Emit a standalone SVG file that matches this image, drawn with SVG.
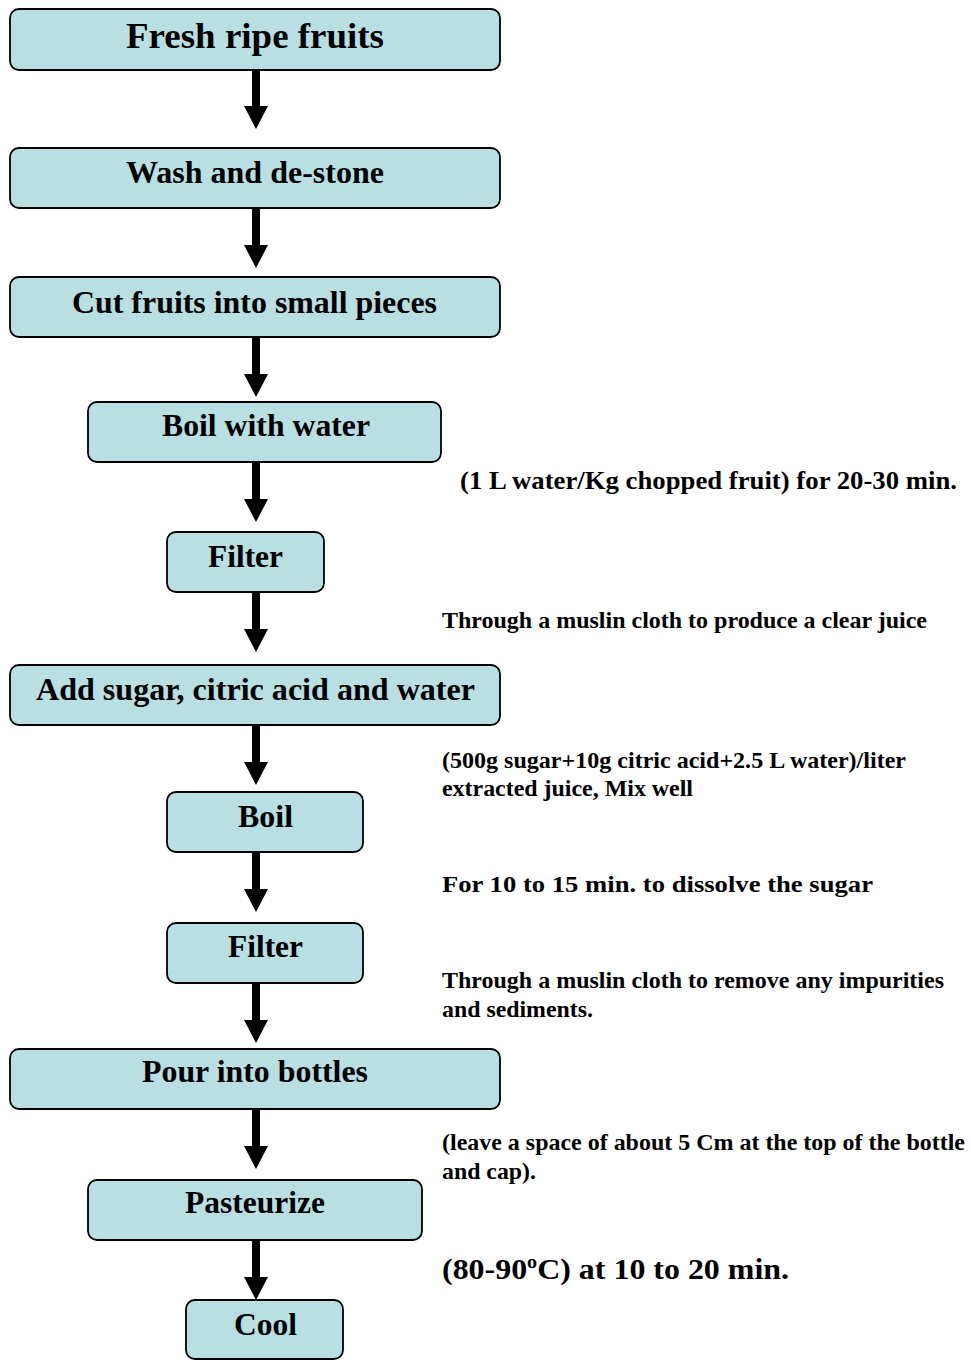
<svg xmlns="http://www.w3.org/2000/svg" xmlns:xlink="http://www.w3.org/1999/xlink" width="971" height="1361" viewBox="0 0 971 1361" font-family="'Liberation Serif', 'Times New Roman', Times, serif" font-weight="bold">
<style>
.box{fill:#b9dfe2;stroke:#000;stroke-width:1.8}
.lbl{font-size:32px}
.note{font-size:23px}
.arr{fill:#000;stroke:none}
</style>
<defs>
<path id="arrow" d="M-4,0 H4 V36 H12 L0,59 L-12,36 H-4 Z"/>
</defs>
<rect width="971" height="1361" fill="#fff"/>
<g id="connectors" class="arr">
<use xlink:href="#arrow" href="#arrow" x="256" y="70"/>
<use xlink:href="#arrow" href="#arrow" x="256" y="209"/>
<use xlink:href="#arrow" href="#arrow" x="256" y="338"/>
<use xlink:href="#arrow" href="#arrow" x="256" y="463"/>
<use xlink:href="#arrow" href="#arrow" x="256" y="593"/>
<use xlink:href="#arrow" href="#arrow" x="256" y="726"/>
<use xlink:href="#arrow" href="#arrow" x="256" y="853"/>
<use xlink:href="#arrow" href="#arrow" x="256" y="984"/>
<use xlink:href="#arrow" href="#arrow" x="256" y="1110"/>
<use xlink:href="#arrow" href="#arrow" x="256" y="1241"/>
</g>
<g id="n1"><rect class="box" x="10" y="9" width="490" height="61" rx="9"/><text x="126" y="48" font-size="36" textLength="258" lengthAdjust="spacingAndGlyphs">Fresh ripe fruits</text></g>
<g id="n2"><rect class="box" x="10" y="148" width="490" height="60" rx="9"/><text class="lbl" x="126" y="183" textLength="258" lengthAdjust="spacingAndGlyphs">Wash and de-stone</text></g>
<g id="n3"><rect class="box" x="10" y="277" width="490" height="60" rx="9"/><text class="lbl" x="72" y="313" textLength="365" lengthAdjust="spacingAndGlyphs">Cut fruits into small pieces</text></g>
<g id="n4"><rect class="box" x="88" y="402" width="353" height="60" rx="9"/><text class="lbl" x="162" y="436" textLength="208" lengthAdjust="spacingAndGlyphs">Boil with water</text></g>
<g id="n5"><rect class="box" x="167" y="532" width="157" height="60" rx="9"/><text class="lbl" x="208" y="567" textLength="75" lengthAdjust="spacingAndGlyphs">Filter</text></g>
<g id="n6"><rect class="box" x="10" y="665" width="490" height="60" rx="9"/><text class="lbl" x="36" y="700" textLength="439" lengthAdjust="spacingAndGlyphs">Add sugar, citric acid and water</text></g>
<g id="n7"><rect class="box" x="167" y="792" width="196" height="60" rx="9"/><text class="lbl" x="238" y="827" textLength="55" lengthAdjust="spacingAndGlyphs">Boil</text></g>
<g id="n8"><rect class="box" x="167" y="923" width="196" height="60" rx="9"/><text class="lbl" x="228" y="957" textLength="75" lengthAdjust="spacingAndGlyphs">Filter</text></g>
<g id="n9"><rect class="box" x="10" y="1049" width="490" height="60" rx="9"/><text class="lbl" x="142" y="1082" textLength="226" lengthAdjust="spacingAndGlyphs">Pour into bottles</text></g>
<g id="n10"><rect class="box" x="88" y="1180" width="334" height="60" rx="9"/><text class="lbl" x="185" y="1213" textLength="140" lengthAdjust="spacingAndGlyphs">Pasteurize</text></g>
<g id="n11"><rect class="box" x="186" y="1300" width="157" height="59" rx="9"/><text class="lbl" x="234" y="1335" textLength="63" lengthAdjust="spacingAndGlyphs">Cool</text></g>
<g id="notes">
<text x="460" y="489" font-size="25" textLength="497" lengthAdjust="spacingAndGlyphs">(1 L water/Kg chopped fruit) for 20-30 min.</text>
<text class="note" x="442" y="628" textLength="485" lengthAdjust="spacingAndGlyphs">Through a muslin cloth to produce a clear juice</text>
<text class="note" x="442" y="768" textLength="464" lengthAdjust="spacingAndGlyphs">(500g sugar+10g citric acid+2.5 L water)/liter</text>
<text class="note" x="442" y="796" textLength="251" lengthAdjust="spacingAndGlyphs">extracted juice, Mix well</text>
<text class="note" x="442" y="892" textLength="431" lengthAdjust="spacingAndGlyphs">For 10 to 15 min. to dissolve the sugar</text>
<text class="note" x="442" y="988" textLength="502" lengthAdjust="spacingAndGlyphs">Through a muslin cloth to remove any impurities</text>
<text class="note" x="442" y="1017" textLength="151" lengthAdjust="spacingAndGlyphs">and sediments.</text>
<text class="note" x="442" y="1150" textLength="523" lengthAdjust="spacingAndGlyphs">(leave a space of about 5 Cm at the top of the bottle</text>
<text class="note" x="442" y="1179" textLength="94" lengthAdjust="spacingAndGlyphs">and cap).</text>
<text x="442" y="1279" font-size="30" textLength="347" lengthAdjust="spacingAndGlyphs">(80-90<tspan dy="-11" font-size="19">o</tspan><tspan dy="11">C) at 10 to 20 min.</tspan></text>
</g>
</svg>
